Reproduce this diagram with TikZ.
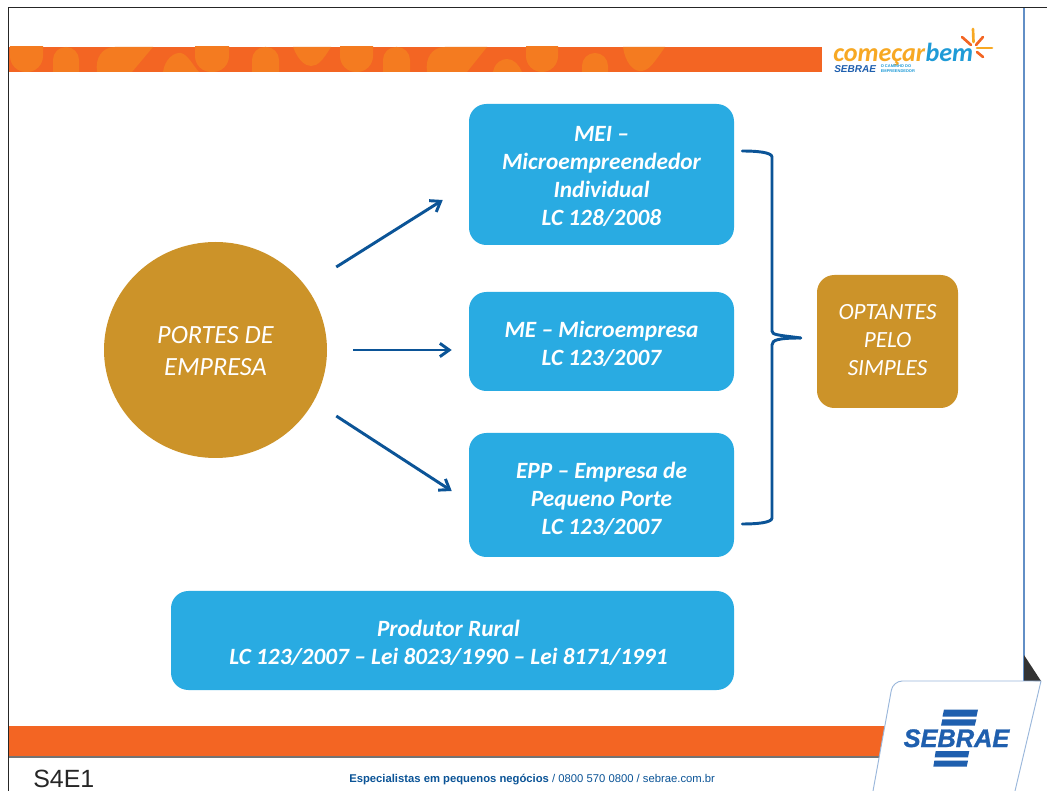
\documentclass[tikz,border=0pt]{standalone}
\usepackage{fontspec}
\setmainfont{Carlito}
\newfontfamily\arialf{Liberation Sans}
\newfontfamily\sebfam[FakeBold=1.2]{Liberation Sans}
\usetikzlibrary{arrows.meta,shapes.geometric}
\definecolor{sbblue}{HTML}{29ABE2}
\definecolor{sbgold}{HTML}{CC9329}
\definecolor{sbline}{HTML}{0B5497}
\definecolor{sborange}{HTML}{F36523}
\definecolor{sbblob}{HTML}{F47B20}
\definecolor{sbnavy}{HTML}{1F5FAE}
\definecolor{sbyellow}{HTML}{F7A823}
\definecolor{sbsky}{HTML}{1F9BD7}
\tikzset{
  bluebox/.style={fill=sbblue,rounded corners=13pt,text=white,align=center,inner sep=0pt,
    font=\fontsize{17.5pt}{21pt}\selectfont\bfseries\itshape},
  goldtext/.style={text=white,align=center,inner sep=0pt},
  flow/.style={draw=sbline,line width=2.2pt,-{Straight Barb[length=7pt,width=10pt,line width=2.2pt]}},
  bracket/.style={draw=sbline,line width=2.2pt,line cap=round},
  blob/.style={fill=sbblob},
  ray/.style={line width=2pt,line cap=round}
}
\newcommand{\blobU}[3]{\fill[blob,rounded corners=12pt] (#1,30) rectangle (#2,#3);}
\newcommand{\blobA}[3]{\fill[blob,rounded corners=9.7pt] (#1,#3) rectangle (#2,90);}
% text block moved by #1 (right) and #2 (up) inside its box, the box itself stays in place
\newcommand{\moved}[3]{\raisebox{#2}[\height][\depth]{\makebox[0pt]{\hspace*{#1}\begin{tabular}{@{}c@{}}#3\end{tabular}}}}
\begin{document}
\begin{tikzpicture}[x=0.75pt,y=-0.75pt]
\useasboundingbox (0,0) rectangle (1047,791);
\fill[white] (0,0) rectangle (1047,791);
% frame
\draw[draw=black!85,line width=1.1pt] (1047,7.5) -- (8.5,7.5) -- (8.5,791);
\draw[draw=sbnavy!70,line width=0.8pt] (1024,8) -- (1024,681);
\fill[black!80] (1024,655) -- (1041,681) -- (1024,681) -- cycle;
% top band
\fill[sborange] (9,47) rectangle (822,72);
\begin{scope}
\clip (9,47) rectangle (822,72);
\blobU{10}{43}{72}
\blobA{53}{79}{47}
\fill[blob] (97,72) .. controls (95,58) and (102,47) .. (115,47) -- (153,47) -- (132,72) -- cycle;
\fill[blob] (163,72) .. controls (165,58) and (175,52) .. (181,53) .. controls (188,55) and (192,64) .. (199,72) -- cycle;
\blobU{195}{229}{72}
\blobA{252}{279}{47}
\fill[blob] (293,47) .. controls (298,60) and (305,66) .. (311,66) .. controls (318,66) and (323,60) .. (331,47) -- cycle;
\blobU{340}{373}{72}
\blobA{383}{410}{47}
\fill[blob] (427,72) .. controls (425,58) and (432,47) .. (445,47) -- (487,47) -- (467,72) -- cycle;
\fill[blob] (493,72) .. controls (495,62) and (502,59) .. (507,59) .. controls (514,59) and (519,65) .. (522,72) -- cycle;
\blobU{526}{558}{72}
\blobA{582}{608}{53}
\fill[blob] (623,47) .. controls (625,62) and (633,71) .. (640,71) .. controls (648,71) and (652,66) .. (665,47) -- cycle;
\end{scope}
% logo top
\node[anchor=base west,inner sep=0pt,text=sbyellow,font=\fontsize{19.6pt}{20pt}\selectfont\bfseries\itshape] (logoa) at (833,61.5) {começar};
\node[anchor=base west,inner sep=0pt,text=sbsky,font=\fontsize{19.6pt}{20pt}\selectfont\bfseries\itshape] (logob) at (logoa.base east) {bem};
\node[anchor=base west,inner sep=0pt,text=sbnavy,font=\arialf\fontsize{7.5pt}{7.5pt}\selectfont\bfseries\itshape] (logoc) at (834,72.5) {SEBRAE};
\node[anchor=west,inner sep=0pt,text=sbsky,align=left,font=\arialf\fontsize{3pt}{3.4pt}\selectfont\bfseries] (logod) at (880.5,68.5) {O CAMINHO DO\\EMPREENDEDOR};
\draw[ray,sbyellow] (973,29) -- (973.5,42);
\draw[ray,sborange] (962,37) -- (971,45);
\draw[ray,sborange] (983,37) -- (976,45);
\draw[ray,sbyellow] (977,48) -- (992,48);
\draw[ray,sborange] (977,52) -- (983,57);
% bottom band
\fill[sborange] (9,726) rectangle (885,756);
\draw[draw=black!55,line width=0.8pt] (9,757) -- (885,757);
% badge
\fill[white,rounded corners=7pt] (873,791) -- (893,681) -- (1041,681) -- (1015,791) -- cycle;
\draw[draw=sbnavy!45,line width=0.7pt,rounded corners=7pt] (873,791) -- (893,681) -- (1041,681);
\draw[draw=sbnavy!45,line width=0.7pt] (1041,681) -- (1015,791);
\fill[sbnavy] (944,709.5) -- (978,709.5) -- (976.5,716.5) -- (942.5,716.5) -- cycle;
\fill[sbnavy] (942.3,719.3) -- (976.3,719.3) -- (974.7,725.7) -- (941,725.7) -- cycle;
\fill[sbnavy] (935.7,751) -- (969.3,751) -- (968,757.3) -- (934.7,757.3) -- cycle;
\fill[sbnavy] (934.3,760.7) -- (968,760.7) -- (966.7,766.7) -- (933.3,766.7) -- cycle;
\node[anchor=base,inner sep=0pt,text=sbnavy,font=\sebfam\fontsize{19pt}{19pt}\selectfont\bfseries\itshape] (sebraelogo) at (956.5,747) {SEBRAE};
% footer
\node[anchor=base west,inner sep=0pt,font=\arialf\fontsize{18.7pt}{18.7pt}\selectfont,text=black!85] (code) at (33,787) {S4E1};
\node[anchor=base west,inner sep=0pt,font=\arialf\fontsize{8.45pt}{8.45pt}\selectfont,text=sbline] (foot) at (349,782) {\textbf{Especialistas em pequenos negócios} / 0800 570 0800 / sebrae.com.br};
% diagram nodes
\node[ellipse,fill=sbgold,goldtext,minimum width=167.25pt,minimum height=162pt,font=\fontsize{19.7pt}{24pt}\selectfont\itshape] (portes) at (215.5,350) {\moved{0pt}{-2.25pt}{PORTES DE\\EMPRESA}};
\node[bluebox,minimum width=198.75pt,minimum height=105.75pt] (mei) at (601.5,174.5) {\moved{0pt}{-2.25pt}{MEI –\\Microempreendedor\\Individual\\LC 128/2008}};
\node[bluebox,minimum width=198.75pt,minimum height=74.25pt] (me) at (601.5,341.5) {\moved{0pt}{-3pt}{ME – Microempresa\\LC 123/2007}};
\node[bluebox,minimum width=198.75pt,minimum height=93pt] (epp) at (601.5,495) {\moved{0pt}{-4.5pt}{EPP – Empresa de\\Pequeno Porte\\LC 123/2007}};
\node[bluebox,minimum width=422.25pt,minimum height=74.25pt] (rural) at (452.5,640.5) {\moved{-6pt}{-3pt}{Produtor Rural\\LC 123/2007 – Lei 8023/1990 – Lei 8171/1991}};
\node[fill=sbgold,goldtext,rounded corners=13pt,minimum width=105.75pt,minimum height=99.75pt,font=\fontsize{17.4pt}{21pt}\selectfont\itshape] (optantes) at (887.5,341.5) {\moved{0pt}{0pt}{OPTANTES\\PELO\\SIMPLES}};
% arrows
\draw[flow] ([shift={(9,-83)}]portes.east) -- ([shift={(-26,25.5)}]mei.west);
\draw[flow] ([shift={(26,0)}]portes.east) -- ([shift={(-17,8.5)}]me.west);
\draw[flow] ([shift={(9,66)}]portes.east) -- ([shift={(-17,-4)}]epp.west);
% brace
\draw[bracket] ([shift={(8,-23.5)}]mei.east) .. controls (755,151) and (772,152) .. (772,157) -- (772,331) .. controls (772,335) and (778,335) .. ([shift={(-16,-3.5)}]optantes.west);
\draw[bracket] ([shift={(8,29)}]epp.east) .. controls (755,524) and (772,523) .. (772,518) -- (772,345) .. controls (772,340) and (778,338) .. ([shift={(-16,-3.5)}]optantes.west);
\end{tikzpicture}
\end{document}
